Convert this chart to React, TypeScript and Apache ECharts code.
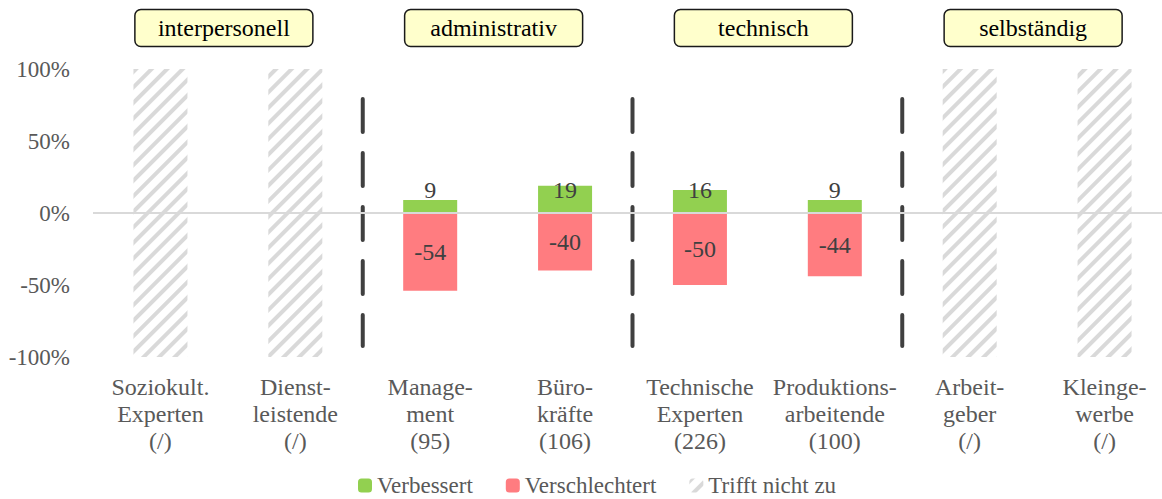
import React, { useEffect, useRef } from 'react';
import * as echarts from 'echarts';

const categories = [
  'Soziokult.\nExperten\n(/)',
  'Dienst-\nleistende\n(/)',
  'Manage-\nment\n(95)',
  'Büro-\nkräfte\n(106)',
  'Technische\nExperten\n(226)',
  'Produktions-\narbeitende\n(100)',
  'Arbeit-\ngeber\n(/)',
  'Kleinge-\nwerbe\n(/)',
];
const improved = [null, null, 9, 19, 16, 9, null, null];
const worsened = [null, null, -54, -40, -50, -44, null, null];
const notApplicableUp = [100, 100, null, null, null, null, 100, 100];
const notApplicableDown = [-100, -100, null, null, null, null, -100, -100];
const groups = ['interpersonell', 'administrativ', 'technisch', 'selbständig'];
const legendNames = ['Verbessert', 'Verschlechtert', 'Trifft nicht zu'];
const yMin = -100;
const yMax = 100;
const yInterval = 50;

export default function App() {
  const ref = useRef<HTMLDivElement>(null);
  useEffect(() => {
    const chart = echarts.init(ref.current!, null, { renderer: 'svg' });
    const font = "Liberation Serif, Times New Roman, serif";
    const hatchStyle = {
      color: '#FFFFFF',
      decal: {
        symbol: 'rect',
        symbolSize: 1,
        color: '#D9D9D9',
        backgroundColor: '#FFFFFF',
        dashArrayX: [1, 0],
        dashArrayY: [4, 7],
        rotation: -Math.PI / 4,
      },
    };
    chart.setOption({
      animation: false,
      grid: { left: 93, top: 69, width: 1079, height: 288, outerBoundsMode: 'none' },
      legend: {
        data: legendNames,
        left: 353,
        top: 469,
        itemWidth: 14,
        itemHeight: 14,
        itemGap: 33,
        textStyle: { fontFamily: font, fontSize: 23, lineHeight: 20, color: '#595959' },
      },
      xAxis: {
        type: 'category',
        data: categories,
        axisLine: { show: false, onZero: false },
        axisTick: { show: false },
        axisLabel: {
          interval: 0,
          margin: 16,
          fontFamily: font,
          fontSize: 24,
          lineHeight: 27,
          color: '#595959',
        },
      },
      yAxis: {
        type: 'value',
        min: yMin,
        max: yMax,
        interval: yInterval,
        splitLine: { show: false },
        axisLine: { show: false },
        axisTick: { show: false },
        axisLabel: {
          formatter: '{value}%',
          margin: 23,
          fontFamily: font,
          fontSize: 23,
          color: '#595959',
        },
      },
      series: [
        {
          name: 'Verbessert',
          type: 'bar',
          stack: 'all',
          barWidth: 54,
          data: improved,
          itemStyle: { color: '#92D050' },
          label: {
            show: true,
            position: 'insideBottom',
            distance: 11,
            fontFamily: font,
            fontSize: 24,
            lineHeight: 24,
            color: '#404040',
          },
          markLine: {
            silent: true,
            symbol: 'none',
            label: { show: false },
            lineStyle: { color: '#D9D9D9', width: 2, type: 'solid' },
            data: [{ yAxis: 0 }],
          },
        },
        {
          name: 'Verschlechtert',
          type: 'bar',
          stack: 'all',
          barWidth: 54,
          data: worsened,
          itemStyle: { color: '#FF7C80' },
          label: {
            show: true,
            position: 'inside',
            fontFamily: font,
            fontSize: 24,
            color: '#404040',
          },
        },
        {
          name: 'Trifft nicht zu',
          type: 'bar',
          stack: 'all',
          barWidth: 54,
          data: notApplicableUp,
          itemStyle: hatchStyle,
        },
        {
          name: 'Trifft nicht zu',
          type: 'bar',
          stack: 'all',
          barWidth: 54,
          data: notApplicableDown,
          itemStyle: hatchStyle,
        },
      ],
    });

    const xs = categories.map((_, i) => chart.convertToPixel({ xAxisIndex: 0 }, i) as number);
    const graphics: any[] = [];
    [1, 3, 5].forEach((i) => {
      const x = (xs[i] + xs[i + 1]) / 2;
      graphics.push({
        type: 'line',
        silent: true,
        shape: { x1: x, y1: 99, x2: x, y2: 346 },
        style: { stroke: '#404040', lineWidth: 4, lineCap: 'round', lineDash: [33, 21] },
      });
    });
    groups.forEach((g, k) => {
      const cx = (xs[2 * k] + xs[2 * k + 1]) / 2 - 4;
      graphics.push({
        type: 'rect',
        silent: true,
        shape: { x: cx - 89, y: 9.5, width: 178, height: 37, r: 6 },
        style: { fill: '#FFFFCC', stroke: '#1A1A1A', lineWidth: 1.5 },
      });
      graphics.push({
        type: 'text',
        silent: true,
        x: cx,
        y: 28,
        style: {
          text: g,
          fontFamily: font,
          fontSize: 24,
          fill: '#000000',
          textAlign: 'center',
          textVerticalAlign: 'middle',
        },
      });
    });
    chart.setOption({ graphic: graphics });

    return () => chart.dispose();
  }, []);
  return (
    <div
      ref={ref}
      style={{ position: 'absolute', left: 0, top: 0, width: 1162, height: 499 }}
    />
  );
}
